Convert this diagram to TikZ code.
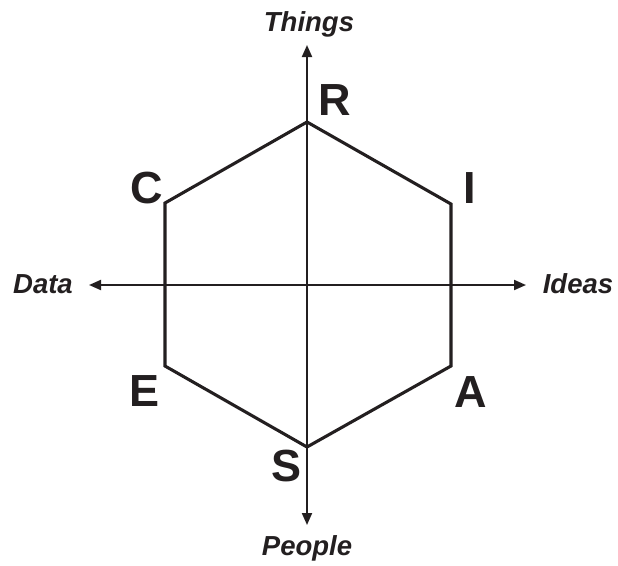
\documentclass[tikz,border=0pt]{standalone}
\usepackage{fontspec}
\setmainfont{Liberation Sans}
\usetikzlibrary{arrows.meta}
\definecolor{ink}{RGB}{35,31,32}
\begin{document}
\begin{tikzpicture}[x=1pt,y=-1pt,
  hexline/.style={draw=ink,line width=3.1pt,line join=miter},
  axisline/.style={draw=ink,line width=2pt,-{Triangle[length=12pt,width=10pt]}},
  letter/.style={text=ink,font=\bfseries\fontsize{45}{45}\selectfont,inner sep=0pt},
  axlabel/.style={text=ink,font=\bfseries\itshape\fontsize{27.5}{27.5}\selectfont,inner sep=0pt}]
\useasboundingbox (0,0) rectangle (618,565);
\coordinate (vR) at (307,122);
\coordinate (vI) at (451,204);
\coordinate (vA) at (451,366);
\coordinate (vS) at (307,447);
\coordinate (vE) at (165,366);
\coordinate (vC) at (165,203);
\coordinate (O) at (307,285);
\coordinate (top) at (307,45);
\coordinate (bot) at (307,525);
\coordinate (lft) at (89,285);
\coordinate (rgt) at (526,285);
\draw[hexline] (vR) -- (vI) -- (vA) -- (vS) -- (vE) -- (vC) -- cycle;
\draw[axisline] (O) -- (top);
\draw[axisline] (O) -- (bot);
\draw[axisline] (O) -- (lft);
\draw[axisline] (O) -- (rgt);
\node[letter] (lR) at (335,100) {R};
\node[letter] (lI) at (470,188) {I};
\node[letter] (lC) at (147,188) {C};
\node[letter] (lE) at (145,391) {E};
\node[letter] (lA) at (471,392) {A};
\node[letter] (lS) at (287,466) {S};
\node[axlabel] (things) at (309,24) {Things};
\node[axlabel] (people) at (307,548) {People};
\node[axlabel] (data) at (43,284) {Data};
\node[axlabel] (ideas) at (578,284) {Ideas};
\end{tikzpicture}
\end{document}
